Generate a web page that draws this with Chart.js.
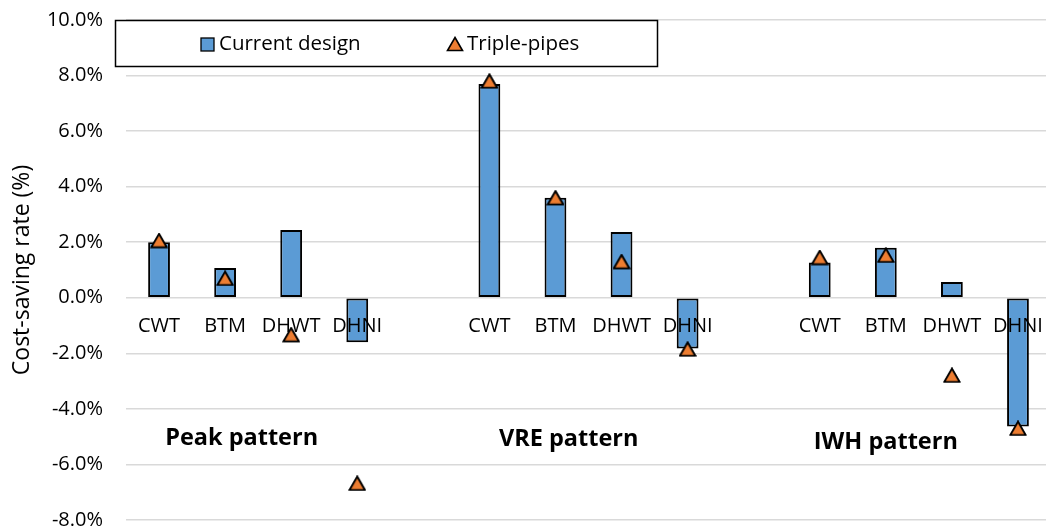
<!DOCTYPE html>
<html>
<head>
<meta charset="utf-8">
<script src="https://cdn.jsdelivr.net/npm/chart.js@4.4.1/dist/chart.umd.min.js"></script>
<style>
html, body { margin: 0; padding: 0; background: #fff; overflow: hidden; }
#wrap { width: 1060px; height: 532px; }
</style>
</head>
<body>
<div id="wrap"><canvas id="myBarChart"></canvas></div>
<script>
// categories, '' = gap between the three patterns
const categories = ['CWT', 'BTM', 'DHWT', 'DHNI', '', 'CWT', 'BTM', 'DHWT', 'DHNI', '', 'CWT', 'BTM', 'DHWT', 'DHNI'];
// cost-saving rate (%)
const currentDesign = [2.0, 1.07, 2.44, -1.6, null, 7.7, 3.6, 2.37, -1.83, null, 1.27, 1.8, 0.57, -4.63];
const triplePipes = [2.06, 0.7, -1.33, -6.68, null, 7.8, 3.6, 1.3, -1.85, null, 1.45, 1.53, -2.79, -4.7];
const yTicks = [-8, -6, -4, -2, 0, 2, 4, 6, 8, 10];
// pattern captions
const patternNames = ['Peak pattern', 'VRE pattern', 'IWH pattern'];

const FONT = '"Open Sans", "Noto Sans", sans-serif';
const BLUE = '#5B9BD5';
const ORANGE = '#ED7D31';

// triangle marker like excel (box-centred)
function makeTriangle() {
    const c = document.createElement('canvas');
    c.width = 18;
    c.height = 16;
    const g = c.getContext('2d');
    g.beginPath();
    g.moveTo(9, 1.5);
    g.lineTo(16.5, 14.5);
    g.lineTo(1.5, 14.5);
    g.closePath();
    g.fillStyle = ORANGE;
    g.fill();
    g.lineWidth = 1.6;
    g.strokeStyle = '#000';
    g.stroke();
    return c;
}
const tri = makeTriangle();

// labels for the patterns: [category index, y value]
const patternAnchor = [[1.25, -5.05], [6.2, -5.1], [11.0, -5.2]];

const topMarkers = {
    id: 'topMarkers',
    afterDraw(chart) {
        const ctx = chart.ctx;
        const xs = chart.scales.x, ys = chart.scales.y;
        ctx.save();
        // triangles go above the axis labels
        chart.getDatasetMeta(0).data.forEach(pt => { if (!pt.skip) pt.draw(ctx, chart.chartArea); });

        // pattern captions
        ctx.fillStyle = '#000';
        ctx.font = 'bold 23.5px ' + FONT;
        ctx.textAlign = 'center';
        ctx.textBaseline = 'middle';
        patternNames.forEach((name, i) => {
            ctx.fillText(name, xs.getPixelForValue(patternAnchor[i][0]), ys.getPixelForValue(patternAnchor[i][1]));
        });

        // boxed legend
        const left = chart.chartArea.left - 11, top = chart.chartArea.top;
        ctx.fillStyle = '#fff';
        ctx.fillRect(left, top, 543, 47);
        ctx.strokeStyle = '#000';
        ctx.lineWidth = 1.5;
        ctx.strokeRect(left + 0.5, top + 0.5, 542, 46);
        ctx.fillStyle = BLUE;
        ctx.fillRect(left + 86, top + 18, 13, 13);
        ctx.lineWidth = 1.3;
        ctx.strokeRect(left + 86, top + 18, 13, 13);
        ctx.drawImage(tri, left + 331, top + 16);
        ctx.fillStyle = '#000';
        ctx.font = '20.5px ' + FONT;
        ctx.textAlign = 'left';
        ctx.fillText('Current design', left + 104, top + 24);
        ctx.fillText('Triple-pipes', left + 352, top + 24);
        ctx.restore();
    }
};

const ctxBar = document.getElementById('myBarChart').getContext('2d');
const myBarChart = new Chart(ctxBar, {
    data: {
        labels: categories,
        datasets: [{
            type: 'line',
            label: 'Triple-pipes',
            data: triplePipes,
            showLine: false,
            pointStyle: tri,
            pointRadius: 8,
            order: 0
        }, {
            type: 'bar',
            label: 'Current design',
            data: currentDesign,
            backgroundColor: BLUE,
            borderColor: '#000',
            borderWidth: 2,
            borderSkipped: false,
            barPercentage: 0.33,
            categoryPercentage: 1,
            order: 1
        }]
    },
    options: {
        responsive: true,
        maintainAspectRatio: false,
        animation: false,
        layout: { padding: { top: 20, right: 4, bottom: 12, left: 0 } },
        plugins: {
            legend: { display: false },
            tooltip: { enabled: false }
        },
        scales: {
            x: {
                position: { y: 0 },
                afterFit(scale) {
                    scale.height = 0;
                },
                // invisible tick marks only push the labels down
                grid: { color: 'rgba(0,0,0,0)', drawOnChartArea: false, drawTicks: true, tickLength: 17, tickColor: 'rgba(0,0,0,0)' },
                border: { display: false },
                ticks: {
                    z: 1,
                    padding: 0,
                    color: '#000',
                    font: { family: FONT, size: 20 },
                    maxRotation: 0,
                    autoSkip: false
                }
            },
            y: {
                min: -8,
                max: 10,
                afterBuildTicks(scale) {
                    scale.ticks = yTicks.map(v => ({ value: v }));
                },
                afterFit(scale) {
                    scale.width = 126;
                },
                ticks: {
                    padding: 0,
                    color: '#000',
                    font: { family: FONT, size: 20 },
                    callback: v => v.toFixed(1) + '%'
                },
                grid: { color: '#d9d9d9', lineWidth: 1.5, drawTicks: true, tickLength: 23, tickColor: 'rgba(0,0,0,0)' },
                border: { display: false },
                title: {
                    display: true,
                    text: 'Cost-saving rate (%)',
                    color: '#000',
                    font: { family: FONT, size: 23 },
                    padding: { top: 9, bottom: 0 }
                }
            }
        }
    },
    plugins: [topMarkers]
});
</script>
</body>
</html>
